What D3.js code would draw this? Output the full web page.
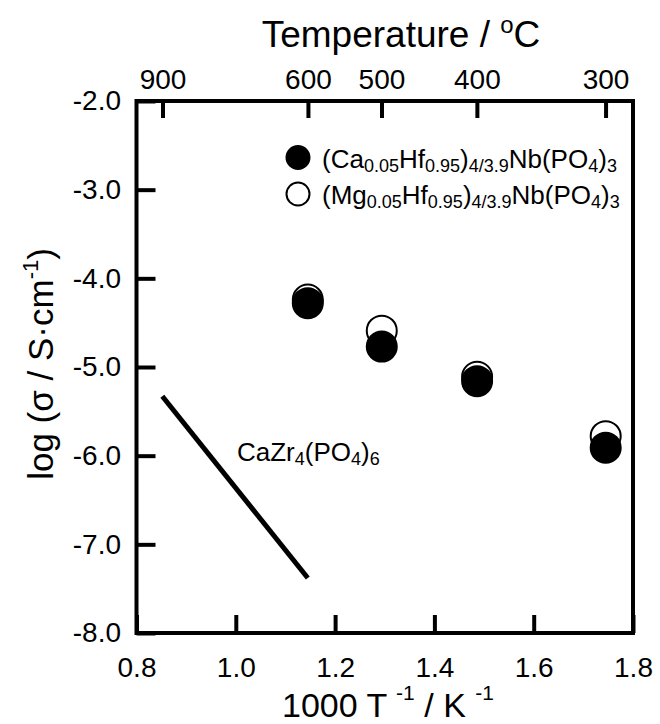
<!DOCTYPE html>
<html>
<head>
<meta charset="utf-8">
<script src="https://cdn.jsdelivr.net/npm/d3@7"></script>
<style>
  body { margin: 0; background: #fff; }
  svg { font-family: "Liberation Sans", Arial, sans-serif; }
</style>
</head>
<body>
<div class="chart"></div>
<script>
// Data
var xTicks = [0.8, 1.0, 1.2, 1.4, 1.6, 1.8];
var yTicks = [-2, -3, -4, -5, -6, -7, -8];
var tempTicks = [900, 600, 500, 400, 300];

var invT = [1.145, 1.294, 1.486, 1.745];
var caSigma = [-4.28, -4.77, -5.16, -5.91];
var mgSigma = [-4.24, -4.59, -5.11, -5.78];

var caZrX = [0.852, 1.145];
var caZrY = [-5.33, -7.38];

var svgWidth = 660;
var svgHeight = 724;

var margin = { top: 101, right: 27, bottom: 91, left: 136.5 };
var width = svgWidth - margin.left - margin.right;
var height = svgHeight - margin.top - margin.bottom;

var svg = d3.select(".chart")
  .append("svg")
  .attr("width", svgWidth)
  .attr("height", svgHeight);

var chartGroup = svg.append("g")
  .attr("transform", `translate(${margin.left}, ${margin.top})`);

var x = d3.scaleLinear().domain([0.8, 1.8]).range([0, width]);
var y = d3.scaleLinear().domain([-8, -2]).range([height, 0]);

// writes text with sub/superscripts
function rich(sel, parts, small, shiftSub, shiftSup) {
  var cur = 0;
  parts.forEach(function(p) {
    var target = p[1] === "sub" ? shiftSub : (p[1] === "sup" ? -shiftSup : 0);
    var t = sel.append("tspan").attr("dy", target - cur).text(p[0]);
    if (p[1]) t.attr("font-size", small);
    cur = target;
  });
}

function styleAxis(g) {
  g.select(".domain").remove();
  g.selectAll(".tick line").attr("stroke", "#000").attr("stroke-width", 4);
  g.selectAll(".tick text").attr("fill", "#000").attr("font-size", 28)
    .attr("font-family", "Liberation Sans, Arial, sans-serif");
}

// bottom axis
chartGroup.append("g")
  .attr("transform", `translate(0, ${height})`)
  .call(d3.axisBottom(x).tickValues(xTicks).tickSize(-18).tickPadding(24)
    .tickFormat(d => d.toFixed(1)))
  .call(styleAxis);

// left axis
chartGroup.append("g")
  .call(d3.axisLeft(y).tickValues(yTicks).tickSize(-19).tickPadding(15.5)
    .tickFormat(d => d.toFixed(1)))
  .call(styleAxis);

// top axis, temperature in deg C
chartGroup.append("g")
  .call(d3.axisTop(x).tickValues(tempTicks.map(t => 1000 / (t + 273.15)))
    .tickSize(-17).tickPadding(12)
    .tickFormat((d, i) => tempTicks[i]))
  .call(styleAxis);

// frame
chartGroup.append("rect")
  .attr("x", 0).attr("y", 0)
  .attr("width", width).attr("height", height)
  .attr("fill", "none")
  .attr("stroke", "#000")
  .attr("stroke-width", 4);

// CaZr4(PO4)6 line
var lineData = caZrX.map((d, i) => [d, caZrY[i]]);
chartGroup.append("path")
  .datum(lineData)
  .attr("d", d3.line().x(d => x(d[0])).y(d => y(d[1])))
  .attr("fill", "none")
  .attr("stroke", "#000")
  .attr("stroke-width", 5);

rich(chartGroup.append("text")
  .attr("x", 237 - margin.left).attr("y", 461 - margin.top)
  .attr("font-size", 26),
  [["CaZr"], ["4", "sub"], ["(PO"], ["4", "sub"], [")"], ["6", "sub"]], 18, 4, 0);

// data points
chartGroup.selectAll(".mg")
  .data(invT)
  .enter()
  .append("circle")
  .attr("cx", (d, i) => x(d))
  .attr("cy", (d, i) => y(mgSigma[i]))
  .attr("r", 15)
  .attr("fill", "#fff")
  .attr("stroke", "#000")
  .attr("stroke-width", 2);

chartGroup.selectAll(".ca")
  .data(invT)
  .enter()
  .append("circle")
  .attr("cx", (d, i) => x(d))
  .attr("cy", (d, i) => y(caSigma[i]))
  .attr("r", 15)
  .attr("fill", "#000")
  .attr("stroke", "#000")
  .attr("stroke-width", 2);

// legend
var legend = svg.append("g");
legend.append("circle").attr("cx", 298).attr("cy", 157.5).attr("r", 11.5)
  .attr("fill", "#000").attr("stroke", "#000").attr("stroke-width", 2);
legend.append("circle").attr("cx", 298).attr("cy", 194).attr("r", 11.5)
  .attr("fill", "#fff").attr("stroke", "#000").attr("stroke-width", 2);

rich(legend.append("text").attr("x", 322).attr("y", 167.5).attr("font-size", 26),
  [["(Ca"], ["0.05", "sub"], ["Hf"], ["0.95", "sub"], [")"], ["4/3.9", "sub"],
   ["Nb(PO"], ["4", "sub"], [")"], ["3", "sub"]], 18, 4, 0);
rich(legend.append("text").attr("x", 322).attr("y", 204).attr("font-size", 26),
  [["(Mg"], ["0.05", "sub"], ["Hf"], ["0.95", "sub"], [")"], ["4/3.9", "sub"],
   ["Nb(PO"], ["4", "sub"], [")"], ["3", "sub"]], 18, 4, 0);

// axis titles
rich(svg.append("text")
  .attr("x", 401).attr("y", 47)
  .attr("text-anchor", "middle")
  .attr("font-size", 37),
  [["Temperature / "], ["o", "sup"], ["C"]], 24, 0, 14);

rich(svg.append("text")
  .attr("x", 388).attr("y", 717)
  .attr("text-anchor", "middle")
  .attr("font-size", 34),
  [["1000 T "], ["-1", "sup"], [" / K "], ["-1", "sup"]], 21, 0, 17);

rich(svg.append("text")
  .attr("transform", "translate(53, 364) rotate(-90)")
  .attr("text-anchor", "middle")
  .attr("font-size", 35),
  [["log (\u03c3 / S\u00b7cm"], ["-1", "sup"], [")"]], 22, 0, 15);
</script>
</body>
</html>
